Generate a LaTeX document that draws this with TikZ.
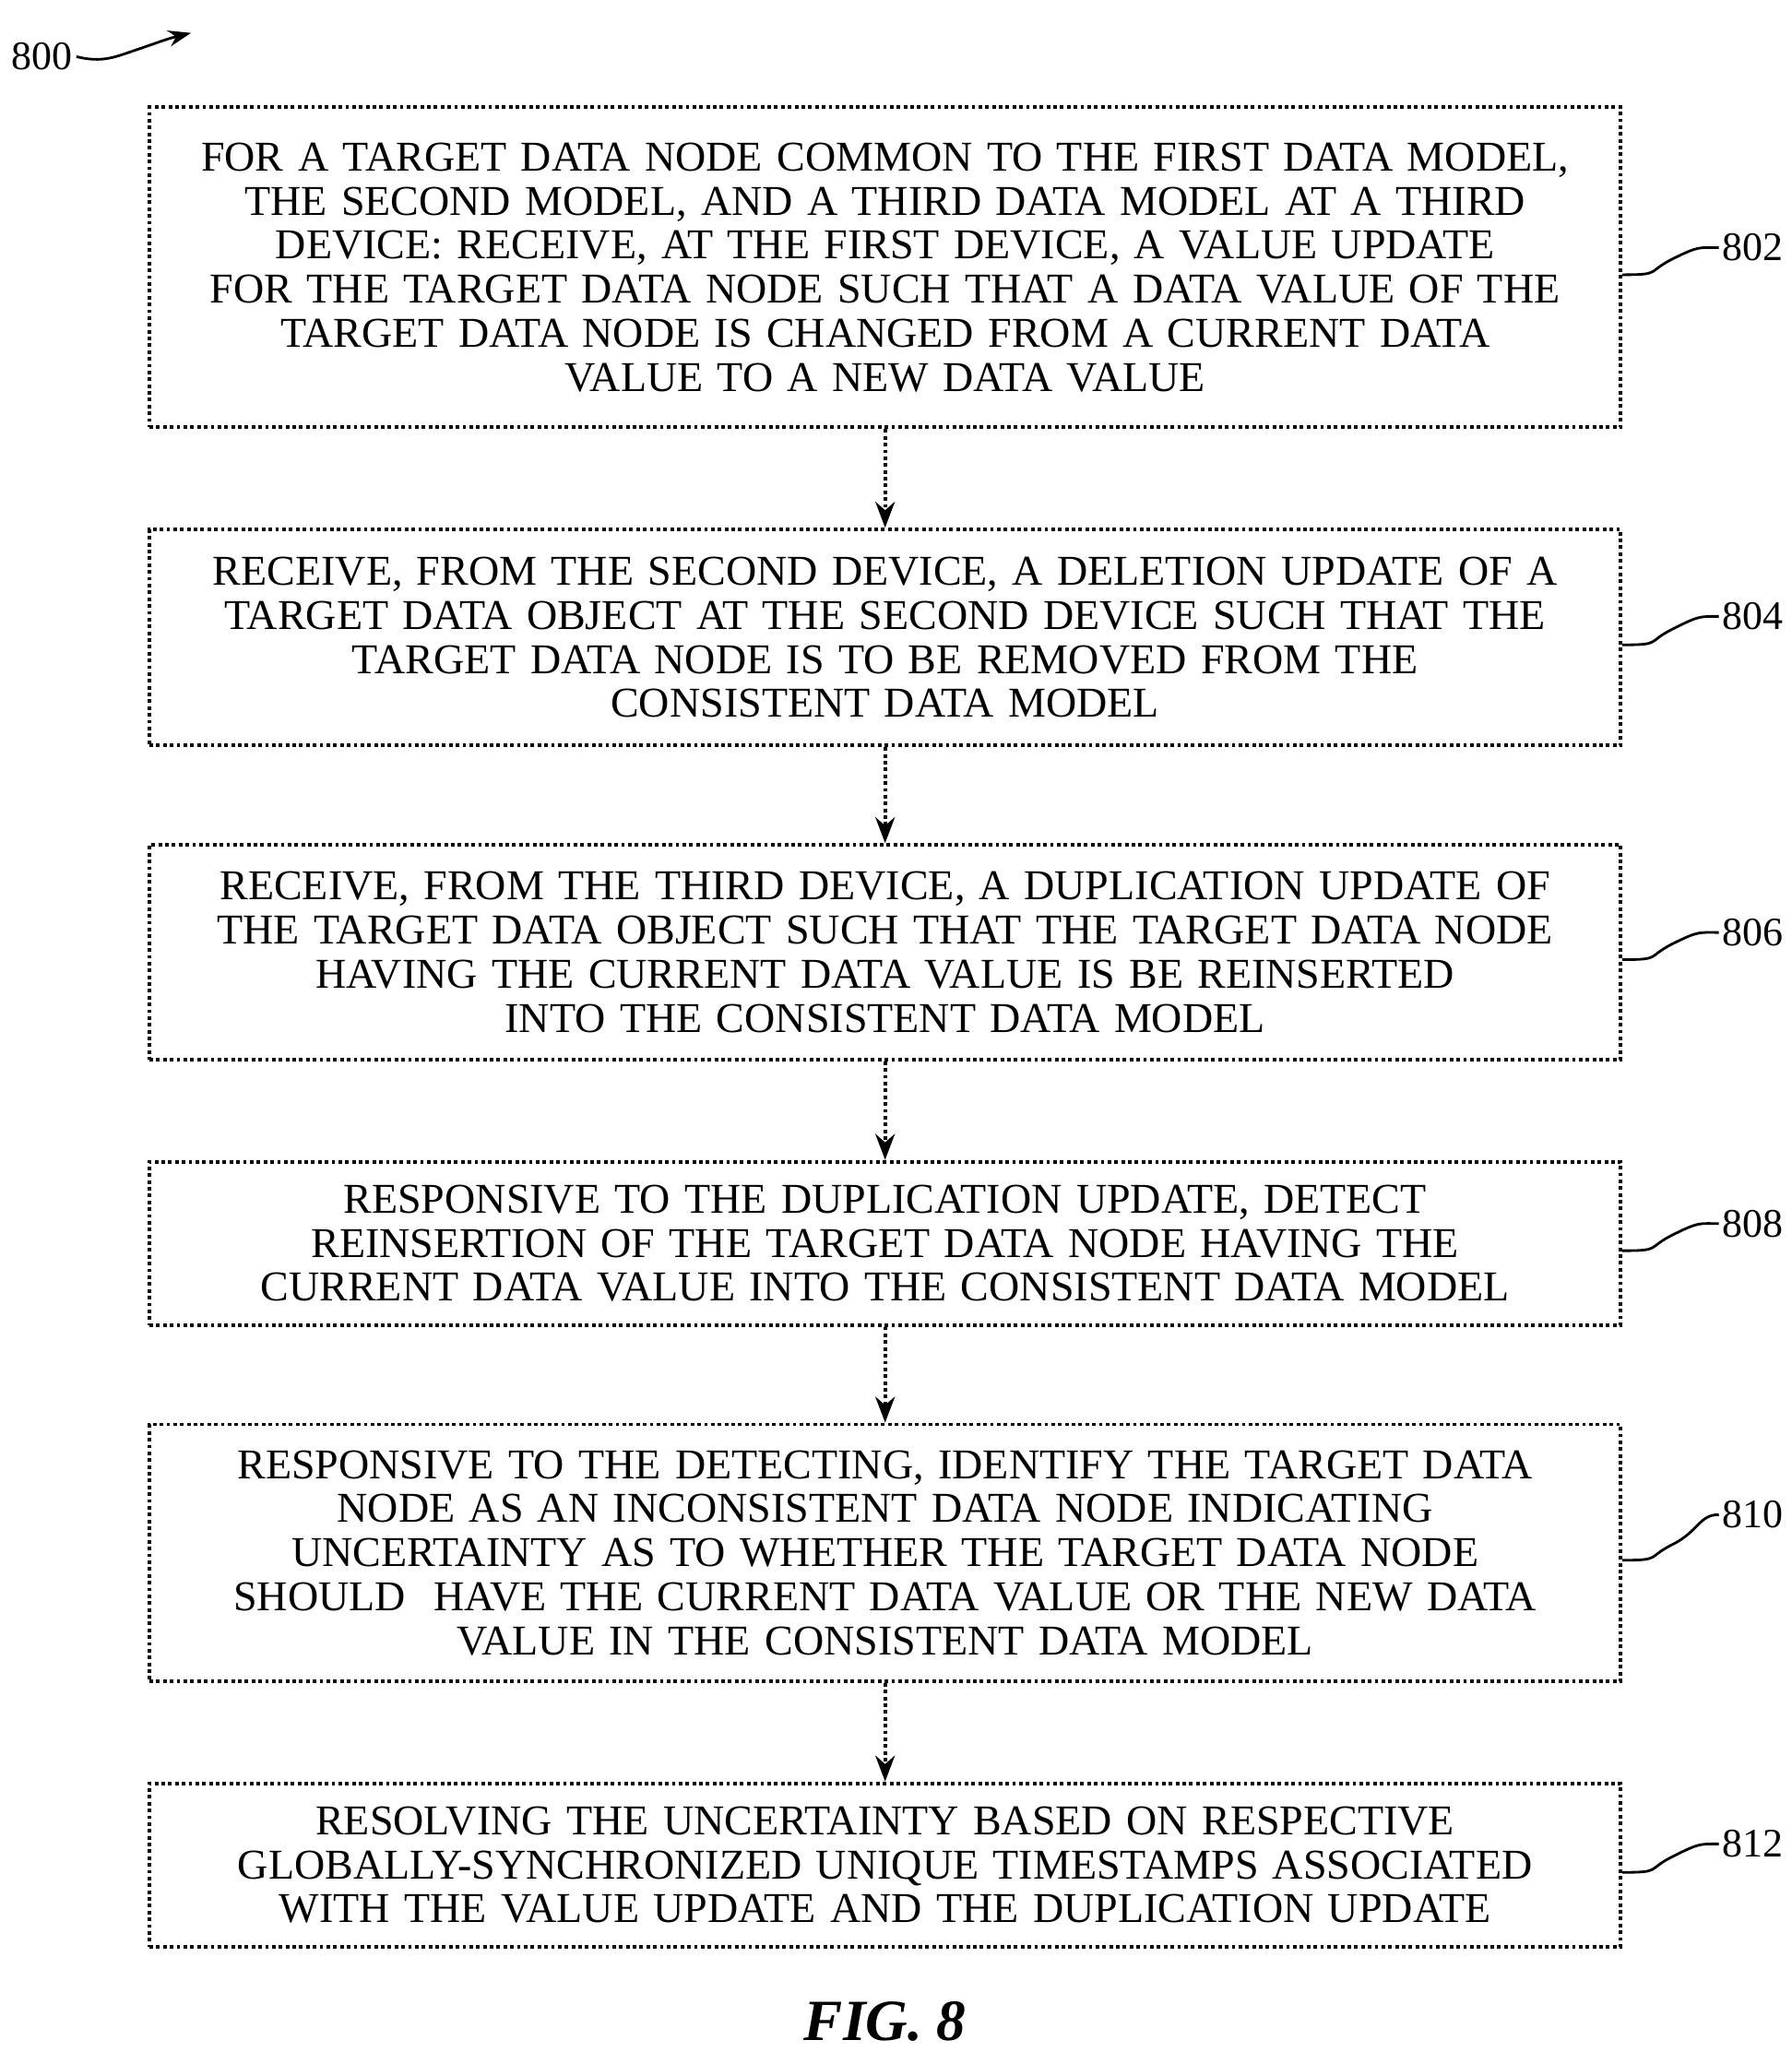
\documentclass[tikz,border=0pt]{standalone}
\usepackage{fontspec}
\setmainfont{Liberation Serif}
\usetikzlibrary{arrows.meta}
\begin{document}
\begin{tikzpicture}[x=0.01428cm,y=-0.01428cm,
  stepbox/.style={draw,line width=1.1pt,densely dotted,align=center,text width=15.5cm,
    minimum width=1117*0.01428cm,inner sep=0pt,font=\fontsize{13.1}{13.6}\selectfont},
  flow/.style={-{Stealth[length=8pt,width=6pt]},line width=1.1pt,densely dotted},
  reflabel/.style={font=\fontsize{12.5}{14}\selectfont,anchor=west,inner sep=1pt},
  squig/.style={line width=0.8pt}]
\useasboundingbox (0,0) rectangle (1360,1558);
\node[stepbox,minimum height=243*0.01428cm] (b802) at (672,203) {FOR A TARGET DATA NODE COMMON TO THE FIRST DATA MODEL,\\THE SECOND MODEL, AND A THIRD DATA MODEL AT A THIRD\\DEVICE: RECEIVE, AT THE FIRST DEVICE, A VALUE UPDATE\\FOR THE TARGET DATA NODE SUCH THAT A DATA VALUE OF THE\\TARGET DATA NODE IS CHANGED FROM A CURRENT DATA\\VALUE TO A NEW DATA VALUE};
\node[stepbox,minimum height=164*0.01428cm] (b804) at (672,484) {RECEIVE, FROM THE SECOND DEVICE, A DELETION UPDATE OF A\\TARGET DATA OBJECT AT THE SECOND DEVICE SUCH THAT THE\\TARGET DATA NODE IS TO BE REMOVED FROM THE\\CONSISTENT DATA MODEL};
\node[stepbox,minimum height=163*0.01428cm] (b806) at (672,723) {RECEIVE, FROM THE THIRD DEVICE, A DUPLICATION UPDATE OF\\THE TARGET DATA OBJECT SUCH THAT THE TARGET DATA NODE\\HAVING THE CURRENT DATA VALUE IS BE REINSERTED\\INTO THE CONSISTENT DATA MODEL};
\node[stepbox,minimum height=124*0.01428cm] (b808) at (672,944) {RESPONSIVE TO THE DUPLICATION UPDATE, DETECT\\REINSERTION OF THE TARGET DATA NODE HAVING THE\\CURRENT DATA VALUE INTO THE CONSISTENT DATA MODEL};
\node[stepbox,minimum height=195*0.01428cm] (b810) at (672,1179) {RESPONSIVE TO THE DETECTING, IDENTIFY THE TARGET DATA\\NODE AS AN INCONSISTENT DATA NODE INDICATING\\UNCERTAINTY AS TO WHETHER THE TARGET DATA NODE\\SHOULD\ \ HAVE THE CURRENT DATA VALUE OR THE NEW DATA\\VALUE IN THE CONSISTENT DATA MODEL};
\node[stepbox,minimum height=124*0.01428cm] (b812) at (672,1416) {RESOLVING THE UNCERTAINTY BASED ON RESPECTIVE\\GLOBALLY-SYNCHRONIZED UNIQUE TIMESTAMPS ASSOCIATED\\WITH THE VALUE UPDATE AND THE DUPLICATION UPDATE};
\foreach \a/\b in {802/804,804/806,806/808,808/810,810/812}
  \draw[flow] (b\a.south) -- (b\b.north);
% reference numerals
\foreach \n/\y in {802/188,804/468,806/708,808/929,810/1150,812/1400} {
  \node[reflabel] (l\n) at (1305,\y) {\n};
  \draw[squig] ([yshift=-0.08cm]b\n.east) .. controls +(30,0) and +(-20,10) .. +(38,-12) .. controls +(20,-10) and +(-15,0) .. (l\n.west);
}
\node[reflabel,anchor=east] (l800) at (58,43) {800};
\coordinate (a800) at (145,25);
\draw[squig,-{Stealth[length=7pt,width=5pt]}] (l800.east) .. controls +(20,5) and +(-15,5) .. +(45,-5) .. controls +(15,-5) and +(-20,5) .. (a800);
\node[font=\fontsize{18}{19}\selectfont\itshape\bfseries] (fig) at (672,1535) {FIG. 8};
\end{tikzpicture}
\end{document}
